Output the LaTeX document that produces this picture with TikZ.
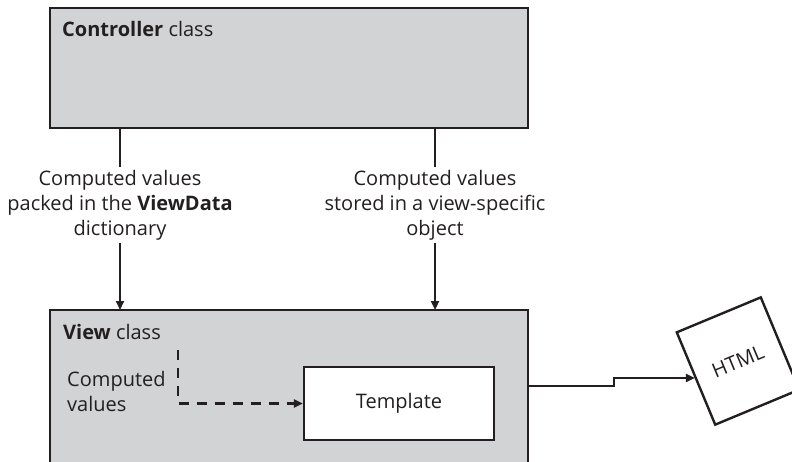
\documentclass[tikz,border=0pt]{standalone}
\usepackage{fontspec}
\setmainfont{Open Sans}
\usetikzlibrary{arrows.meta,positioning,calc}
\definecolor{ink}{HTML}{231F20}
\definecolor{panel}{HTML}{D1D3D4}
\tikzset{
  classbox/.style={draw=ink, fill=panel, line width=2.4pt},
  tplbox/.style={draw=ink, fill=white, line width=2.4pt},
  lbl/.style={font=\fontsize{20}{25}\selectfont, text=ink, align=center, inner sep=3pt},
  ar/.style={-{Triangle[length=9pt,width=8pt]}, line width=2.2pt, draw=ink},
  ln/.style={line width=2.2pt, draw=ink}
}

\begin{document}
\begin{tikzpicture}[x=1pt,y=-1pt]
  \clip (0,0) rectangle (792,461);
  \fill[white] (0,0) rectangle (792,461);

  % controller
  \draw[classbox] (50,8) rectangle (528,128);
  \node[lbl, anchor=west] (ctrl) at (59,29) {\textbf{Controller} class};

  % view
  \draw[classbox] (50,310) rectangle (528,480);
  \node[lbl, anchor=west] (view) at (60,332) {\textbf{View} class};
  \node[tplbox, minimum width=190pt, minimum height=73pt, lbl] (tpl) at (399,403.5) {Template};
  \node[lbl, anchor=west, align=left] (cval) at (64,391) {Computed\\values};

  % the two hand-overs
  \node[lbl] (pack) at (120,205) {Computed values\\packed in the \textbf{ViewData}\\dictionary};
  \node[lbl] (store) at (435,205) {Computed values\\stored in a view-specific\\object};
  \draw[ln] (120,128) -- (pack.north);
  \draw[ar] (pack.south) -- (120,310);
  \draw[ln] (435,128) -- (store.north);
  \draw[ar] (store.south) -- (435,310);

  % inside the view
  \coordinate (dstart) at (178,350);
  \draw[ar, dash pattern=on 10pt off 8pt] (dstart) |- (tpl.west);

  % output
  \node[draw=ink, line width=2.4pt, fill=white, minimum width=91pt, minimum height=100pt,
        rotate=22.6, lbl] (html) at (738,361) {HTML};
  \coordinate (step) at (614,386);
  \draw[ar] (528,386) -- (step) -- ++(0,-8) -- (html.west |- 0,378);
\end{tikzpicture}
\end{document}
